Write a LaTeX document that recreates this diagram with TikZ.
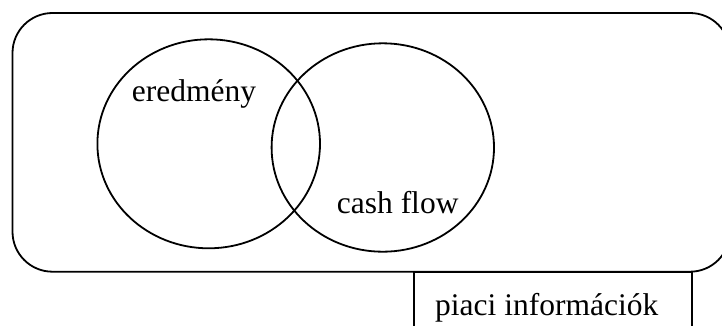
\documentclass[tikz,border=0pt]{standalone}
\usepackage{fontspec}
\setmainfont{Liberation Serif}
\begin{document}
\begin{tikzpicture}[x=1pt,y=-1pt,
  outline/.style={draw=black,line width=1.8pt},
  label/.style={inner sep=0pt,anchor=base west,font=\fontsize{31.5}{36}\selectfont}]
\useasboundingbox (0,0) rectangle (722,325);
\clip (0,0) rectangle (722,325);
% outer frame
\draw[outline,rounded corners=40pt] (12.5,13) rectangle (730,271.7);
% overlapping sets
\draw[outline] (208.7,143.8) ellipse [x radius=111.3, y radius=104.5];
\draw[outline] (382.8,147.5) ellipse [x radius=111.2, y radius=104.2];
% market information tab below the frame
\draw[outline] (414,340) -- (414,271.7) -- (692,271.7) -- (692,340);
\node[label] (ered) at (131.7,101.7) {eredmény};
\node[label] (cash) at (336.7,213.3) {cash flow};
\node[label] (piaci) at (435,315) {piaci információk};
\end{tikzpicture}
\end{document}
